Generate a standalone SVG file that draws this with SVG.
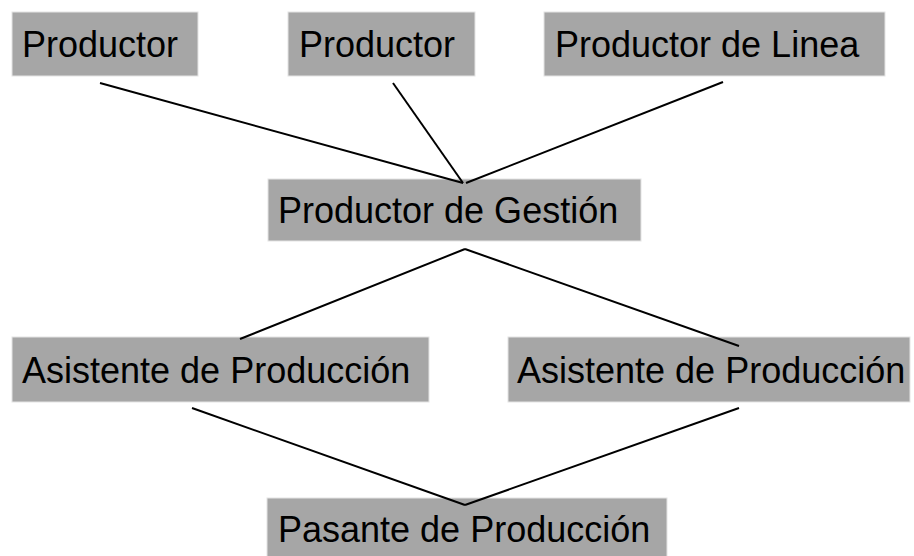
<svg xmlns="http://www.w3.org/2000/svg" width="914" height="556" viewBox="0 0 914 556">
<style>
.box{fill:#a6a6a6;stroke:#e4e4e4;stroke-width:1}
.lbl{font-family:"Liberation Sans",Arial,sans-serif;font-size:36px;fill:#000}
.con{stroke:#000;stroke-width:2;fill:none}
</style>
<rect width="914" height="556" fill="#fff"/>
<g id="n1"><rect class="box" x="12" y="12" width="186" height="64"/><text class="lbl" x="22" y="57">Productor</text></g>
<g id="n2"><rect class="box" x="288" y="12" width="187" height="64"/><text class="lbl" x="299" y="57">Productor</text></g>
<g id="n3"><rect class="box" x="544" y="12" width="341" height="64"/><text class="lbl" x="555" y="57">Productor de Linea</text></g>
<g id="n4"><rect class="box" x="268" y="179" width="373" height="62"/><text class="lbl" x="278" y="223">Productor de Gestión</text></g>
<g id="n5"><rect class="box" x="12" y="337" width="417" height="65"/><text class="lbl" x="22" y="383">Asistente de Producción</text></g>
<g id="n6"><rect class="box" x="508" y="337" width="402" height="65"/><text class="lbl" x="517" y="383">Asistente de Producción</text></g>
<g id="n7"><rect class="box" x="267" y="498" width="400" height="60"/><text class="lbl" x="278" y="542">Pasante de Producción</text></g>
<g id="connectors">
<line class="con" x1="100" y1="83" x2="463" y2="183"/>
<line class="con" x1="393" y1="83" x2="463" y2="183"/>
<line class="con" x1="723" y1="82" x2="466" y2="183"/>
<line class="con" x1="465" y1="249" x2="240" y2="339"/>
<line class="con" x1="465" y1="249" x2="739" y2="346"/>
<line class="con" x1="192" y1="408" x2="465" y2="505"/>
<line class="con" x1="739" y1="408" x2="465" y2="505"/>
</g>
</svg>
